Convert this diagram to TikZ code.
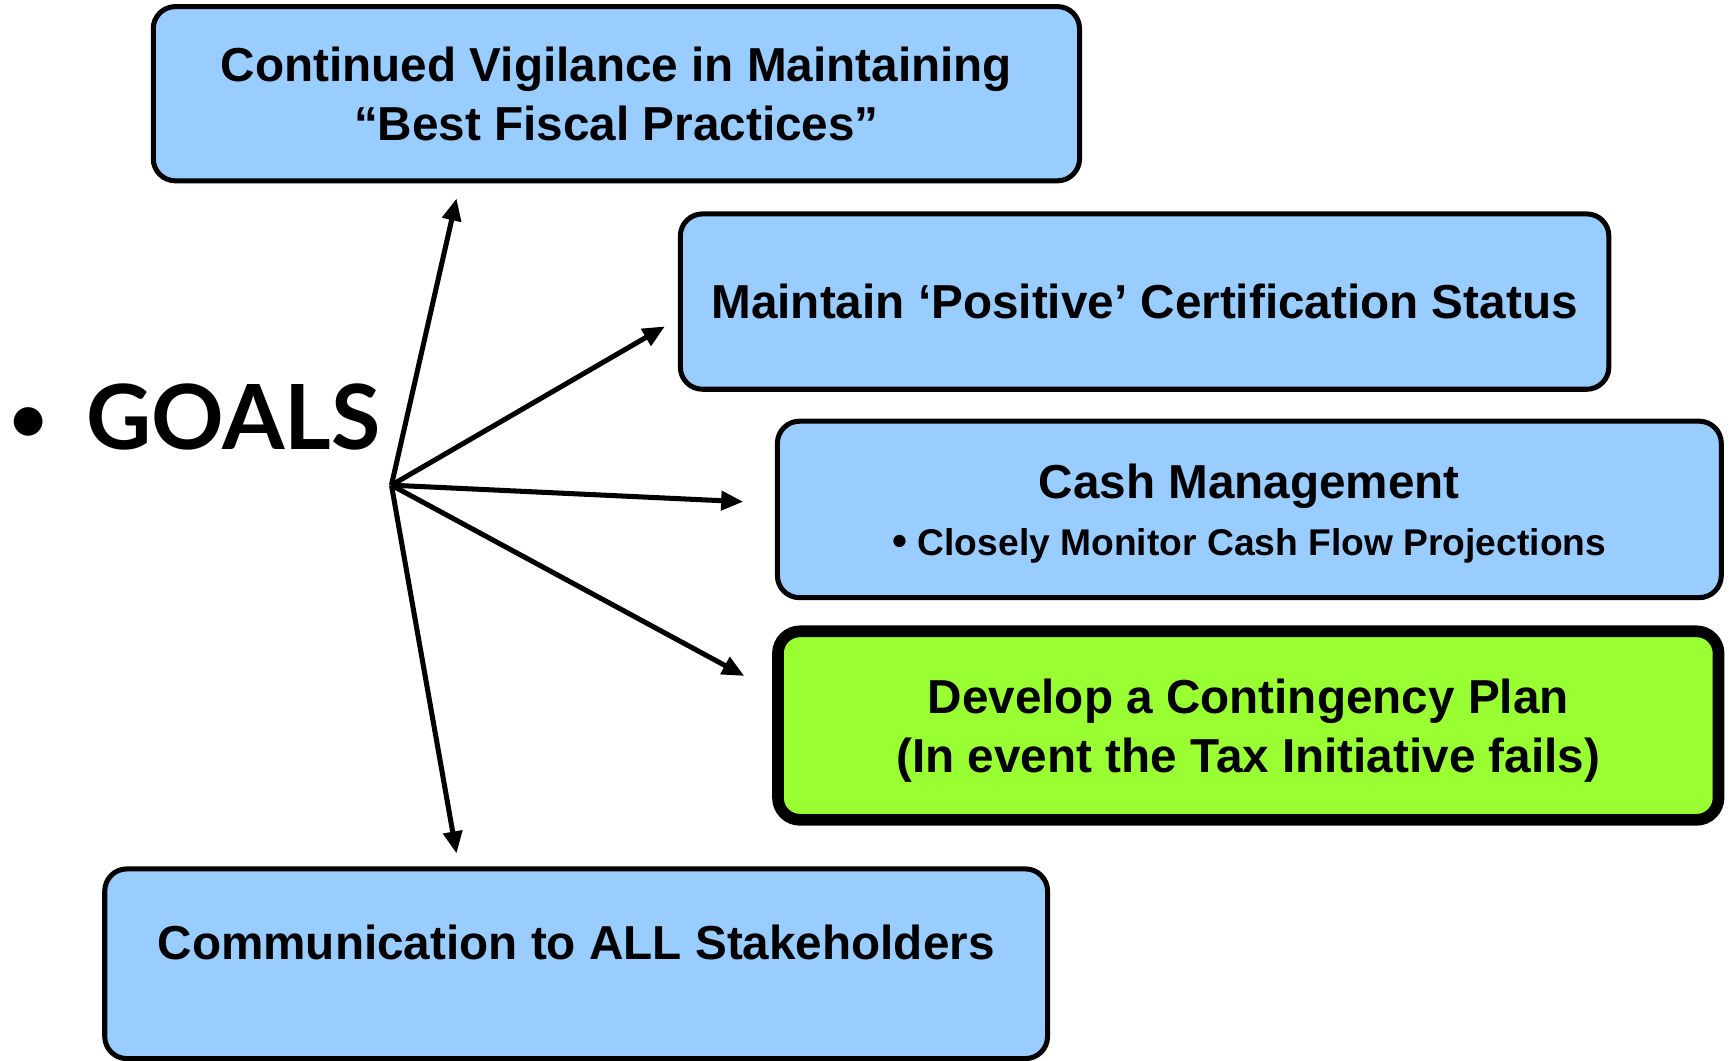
\documentclass[tikz,border=0pt]{standalone}
\usepackage{fontspec}
\setmainfont{Liberation Sans}
\newfontfamily\goalfont{Lato}
\usepackage{tikz}
\usepackage{xcolor}
\usetikzlibrary{positioning, arrows.meta}

\definecolor{boxblue}{HTML}{99CCFF}
\definecolor{boxgreen}{HTML}{99FF33}

\begin{document}
\begin{tikzpicture}[
    goal/.style={rectangle, rounded corners=0.2cm, draw=black, line width=1.3pt, fill=boxblue, align=center, font=\fontsize{12.3}{15.1}\selectfont\bfseries},
    arr/.style={-{Triangle[length=0.2cm, width=0.17cm]}, line width=1.3pt}
]
            \useasboundingbox (0, 0) rectangle (15.68, -9.62);

            \node[anchor=base west, inner sep=0pt, font=\fontsize{23.2}{28}\selectfont\goalfont\bfseries] (goals) at (0.08, -4.08) {\raisebox{0.08cm}{\fontsize{17}{20}\selectfont •}\hspace{0.35cm}GOALS};

            \node[goal, minimum width=8.40cm, minimum height=1.58cm] (vigil) at (5.59, -0.85) {Continued Vigilance in Maintaining\\``Best Fiscal Practices''};
            \node[goal, minimum width=8.42cm, minimum height=1.59cm] (status) at (10.38, -2.735) {Maintain `Positive' Certification Status};
            \node[goal, minimum width=8.56cm, minimum height=1.60cm, text depth=0pt] (cash) at (11.33, -4.62) {Cash Management\\[-0.3pt]{\fontsize{9.6}{12}\selectfont{\fontsize{11}{12}\selectfont\textbullet}\ Closely Monitor Cash Flow Projections}};
            \node[goal, fill=boxgreen, line width=3pt, minimum width=8.53cm, minimum height=1.71cm, text depth=0pt] (plan) at (11.32, -6.58) {Develop a Contingency Plan\\(In event the Tax Initiative fails)};
            \node[goal, minimum width=8.55cm, minimum height=1.72cm, text height=0.30cm, text depth=0.37cm] (comm) at (5.225, -8.74) {Communication to ALL Stakeholders};

            \coordinate (hub) at (3.55, -4.40);
            \coordinate (e1) at (4.14, -1.80);
            \coordinate (e2) at (6.03, -2.96);
            \coordinate (e3) at (6.74, -4.55);
            \coordinate (e4) at (6.75, -6.13);
            \coordinate (e5) at (4.14, -7.74);

            \draw[arr] (hub) -- (e1);
            \draw[arr] (hub) -- (e2);
            \draw[arr] (hub) -- (e3);
            \draw[arr] (hub) -- (e4);
            \draw[arr] (hub) -- (e5);
        \end{tikzpicture}
\end{document}
